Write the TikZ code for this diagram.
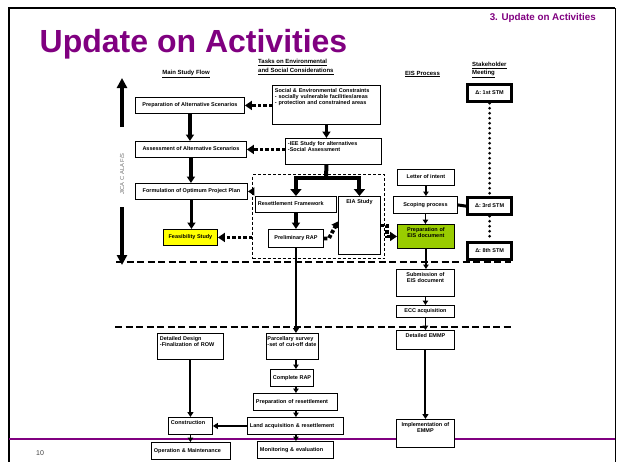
\documentclass[tikz,border=0pt]{standalone}
\usepackage{fontspec}
\setmainfont{Liberation Sans}
\usetikzlibrary{positioning,arrows.meta}

\definecolor{titlepurple}{RGB}{128,0,128}
\definecolor{eisgreen}{RGB}{153,204,0}
\definecolor{feasyellow}{RGB}{255,255,0}
\newcommand{\boxfont}{\fontsize{5.5}{6}\selectfont\bfseries}
\newcommand{\headfont}{\fontsize{6}{8.5}\selectfont\bfseries}

\begin{document}
\begin{tikzpicture}[x=1pt, y=-1pt,
  stepbox/.style={draw, fill=white, line width=0.9pt, font=\boxfont, anchor=north west,
                  inner xsep=2.5pt, inner ysep=1.5pt, text height=4pt, text depth=1pt, align=center},
  topbox/.style={stepbox, inner ysep=3pt, align=left},
  stmbox/.style={stepbox, line width=3.2pt, minimum width=44, minimum height=17},
  dashbox/.style={draw, dash pattern=on 3pt off 2pt, line width=1pt, anchor=north west, inner sep=0pt},
  head/.style={font=\headfont, align=left, inner sep=0pt},
  thk/.style={line width=3.3pt, -{Triangle[length=6.5pt,width=8pt]}},
  mid/.style={line width=2pt, -{Triangle[length=5pt,width=6pt]}},
  thn/.style={line width=1.5pt, -{Triangle[length=4.5pt,width=5.5pt]}},
  bigarr/.style={line width=3.2pt, -{Triangle[length=10pt,width=10pt]}},
  splitline/.style={line width=4pt},
  splitarr/.style={line width=4pt, -{Triangle[length=7pt,width=11pt]}},
  dotarr/.style={line width=3.8pt, dash pattern=on 3.5pt off 2pt, -{Triangle[length=7pt,width=9pt]}},
  rdots/.style={line width=3pt, line cap=round, dash pattern=on 0pt off 5pt},
  divider/.style={line width=1.8pt, dash pattern=on 7pt off 3.5pt}]
\useasboundingbox (0,0) rectangle (618,461);
% slide frame and footer rule
\coordinate (fnw) at (9,8); \coordinate (fne) at (615,8);
\coordinate (fsw) at (9,462); \coordinate (fse) at (615,462);
\coordinate (rulew) at (9,439); \coordinate (rulee) at (615,439);
\draw[line width=1.8pt] (fsw) -- (fnw) -- (fne);
\draw[line width=1pt] (fne) -- (fse);
\draw[titlepurple, line width=2.6pt] (rulew) -- (rulee);
\node[anchor=base west, inner sep=0pt, font=\fontsize{32}{36}\selectfont\bfseries, text=titlepurple] (title) at (39.5,52) {Update on Activities};
\node[anchor=base east, inner sep=0pt, font=\fontsize{9.8}{11}\selectfont\bfseries, text=titlepurple] (section) at (596,20) {3. Update on Activities};
\node[anchor=base west, inner sep=0pt, font=\fontsize{7}{8}\selectfont, text=black!75] (pageno) at (36,455) {10};
% column headers
\node[head] (hmain) at (186,74) {\underline{Main Study Flow}};
\node[head, anchor=west] (htasks) at (258,67) {\underline{Tasks on Environmental}\\\underline{and Social Considerations}};
\node[head, anchor=west] (heis) at (405,74) {\underline{EIS Process}};
\node[head, anchor=west] (hstake) at (472,70) {\underline{Stakeholder}\\\underline{Meeting}};
% phase dividers
\coordinate (divAw) at (116,262); \coordinate (divAe) at (511,262);
\coordinate (divBw) at (115,327); \coordinate (divBe) at (511,327);
\draw[divider] (divAw) -- (divAe);
\draw[divider] (divBw) -- (divBe);
% JICA F/S span
\coordinate (jtop) at (122,78); \coordinate (jgapA) at (122,127);
\coordinate (jgapB) at (122,207); \coordinate (jbot) at (122,265);
\node[rotate=90, font=\fontsize{5.8}{7}\selectfont, text=black!55, inner sep=0pt] (jica) at (122,174) {JICA C ALA F/S};
\draw[bigarr] (jgapA) -- (jtop);
\draw[bigarr] (jgapB) -- (jbot);
% main study flow
\node[stepbox, minimum width=109, minimum height=16] (prep) at (135,97) {Preparation of Alternative Scenarios};
\node[stepbox, minimum width=111, minimum height=16] (assess) at (135,141) {Assessment of Alternative Scenarios};
\node[stepbox, minimum width=112, minimum height=16] (formul) at (135,183) {Formulation of Optimum Project Plan};
\node[stepbox, fill=feasyellow, minimum width=54, minimum height=16] (feas) at (163,229) {Feasibility Study};
% environmental and social tasks
\node[dashbox, minimum width=132, minimum height=84] (envbox) at (252,174) {};
\node[topbox, text width=103pt, text depth=29pt] (social) at (272,85) {Social \& Environmental Constraints\\- socially vulnerable facilities/areas\\- protection and constrained areas};
\node[topbox, text width=91pt, text depth=16pt] (iee) at (285,138) {-IEE Study for alternatives\\-Social Assessment};
\node[stepbox, align=left, text width=76pt, minimum height=16] (resfw) at (255,196) {Resettlement Framework};
\node[topbox, align=center, text width=37pt, text depth=48pt] (eia) at (338,196) {EIA Study};
\node[stepbox, minimum width=55, minimum height=18] (prelrap) at (268,229) {Preliminary RAP};
% EIS process
\node[stepbox, minimum width=57, minimum height=16] (loi) at (397,169) {Letter of intent};
\node[stepbox, minimum width=64, minimum height=17] (scoping) at (393,196) {Scoping process};
\node[topbox, align=center, fill=eisgreen, text width=52pt, text depth=14pt] (eisprep) at (397,224) {Preparation of\\EIS document};
\node[topbox, align=center, text width=53pt, text depth=17pt] (submit) at (396,269) {Submission of\\EIS document};
\node[stepbox, minimum width=58, minimum height=12] (ecc) at (396,305) {ECC acquisition};
\node[topbox, align=center, text width=53pt, text depth=9pt] (emmp) at (396,330) {Detailed EMMP};
\node[topbox, align=center, text width=53pt, text depth=18pt] (implem) at (396,419) {Implementation of\\EMMP};
% stakeholder meetings
\node[stmbox] (stm1) at (466,83) {Δ: 1st STM};
\node[stmbox] (stm3) at (466,196) {Δ: 3rd STM};
\node[stmbox] (stm8) at (466,241) {Δ: 8th STM};
% implementation stage
\node[topbox, text width=61pt, text depth=16pt] (ddesign) at (157,333) {Detailed Design\\-Finalization of ROW};
\node[topbox, text width=39pt, text depth=7pt] (constr) at (168,417) {Construction};
\node[stepbox, align=left, text width=74pt, minimum height=17] (opmaint) at (151,442) {Operation \& Maintenance};
\node[topbox, inner xsep=1pt, text width=50pt, text depth=16pt] (parcel) at (266,333) {Parcellary survey\\-set of cut-off date};
\node[stepbox, minimum width=42, minimum height=17] (comprap) at (270,369) {Complete RAP};
\node[stepbox, align=left, text width=79pt, minimum height=17] (prepres) at (253,393) {Preparation of resettlement};
\node[stepbox, align=left, text width=91pt, minimum height=17] (landacq) at (247,417) {Land acquisition \& resettlement};
\node[stepbox, align=left, text width=71pt, minimum height=17] (monitor) at (257,441) {Monitoring \& evaluation};
% connectors
\draw[thk] (prep.south) -- (prep.south |- assess.north);
\draw[thk] (assess.south) -- (assess.south |- formul.north);
\draw[thk] (formul.south) -- (formul.south |- feas.north);
\draw[dotarr] (social.west |- prep.east) -- (prep.east);
\draw[dotarr] (iee.west |- assess.east) -- (assess.east);
\draw[thk] (envbox.west |- formul.east) -- (formul.east);
\draw[dotarr] (envbox.west |- feas.east) -- (feas.east);
\draw[thk] (social.south) -- (social.south |- iee.north);
\coordinate (split) at (326,178);
\draw[splitline] (social.south |- iee.south) -- (split);
\draw[splitarr] (split) -| (resfw.north);
\draw[splitarr] (split) -| (eia.north);
\draw[thk] (resfw.south) -- (resfw.south |- prelrap.north);
\draw[dotarr, -{Triangle[length=6pt,width=8pt]}] (prelrap.east) -- ++(5,0) -- ([yshift=4pt]eia.west);
\draw[dotarr] (eia.east) -- ++(6,0) |- (eisprep.west);
\foreach \a/\b in {loi/scoping, scoping/eisprep, eisprep/submit, submit/ecc, ecc/emmp}
  \draw[thn] (\a.south) -- (\a.south |- \b.north);
\draw[mid] (emmp.south) -- (emmp.south |- implem.north);
\draw[line width=3pt] (scoping.east) -- (stm3.west);
\draw[rdots] (stm1.south) -- (stm3.north);
\draw[rdots] (stm3.south) -- (stm8.north);
\draw[mid] (prelrap.south) -- (prelrap.south |- parcel.north);
\foreach \a/\b in {parcel/comprap, comprap/prepres, prepres/landacq, landacq/monitor}
  \draw[thn] (\a.south -| prelrap.south) -- (prelrap.south |- \b.north);
\draw[mid] (ddesign.south) -- (ddesign.south |- constr.north);
\draw[thn] (constr.south) -- (constr.south |- opmaint.north);
\draw[mid] (landacq.west) -- (constr.east);
\end{tikzpicture}
\end{document}
